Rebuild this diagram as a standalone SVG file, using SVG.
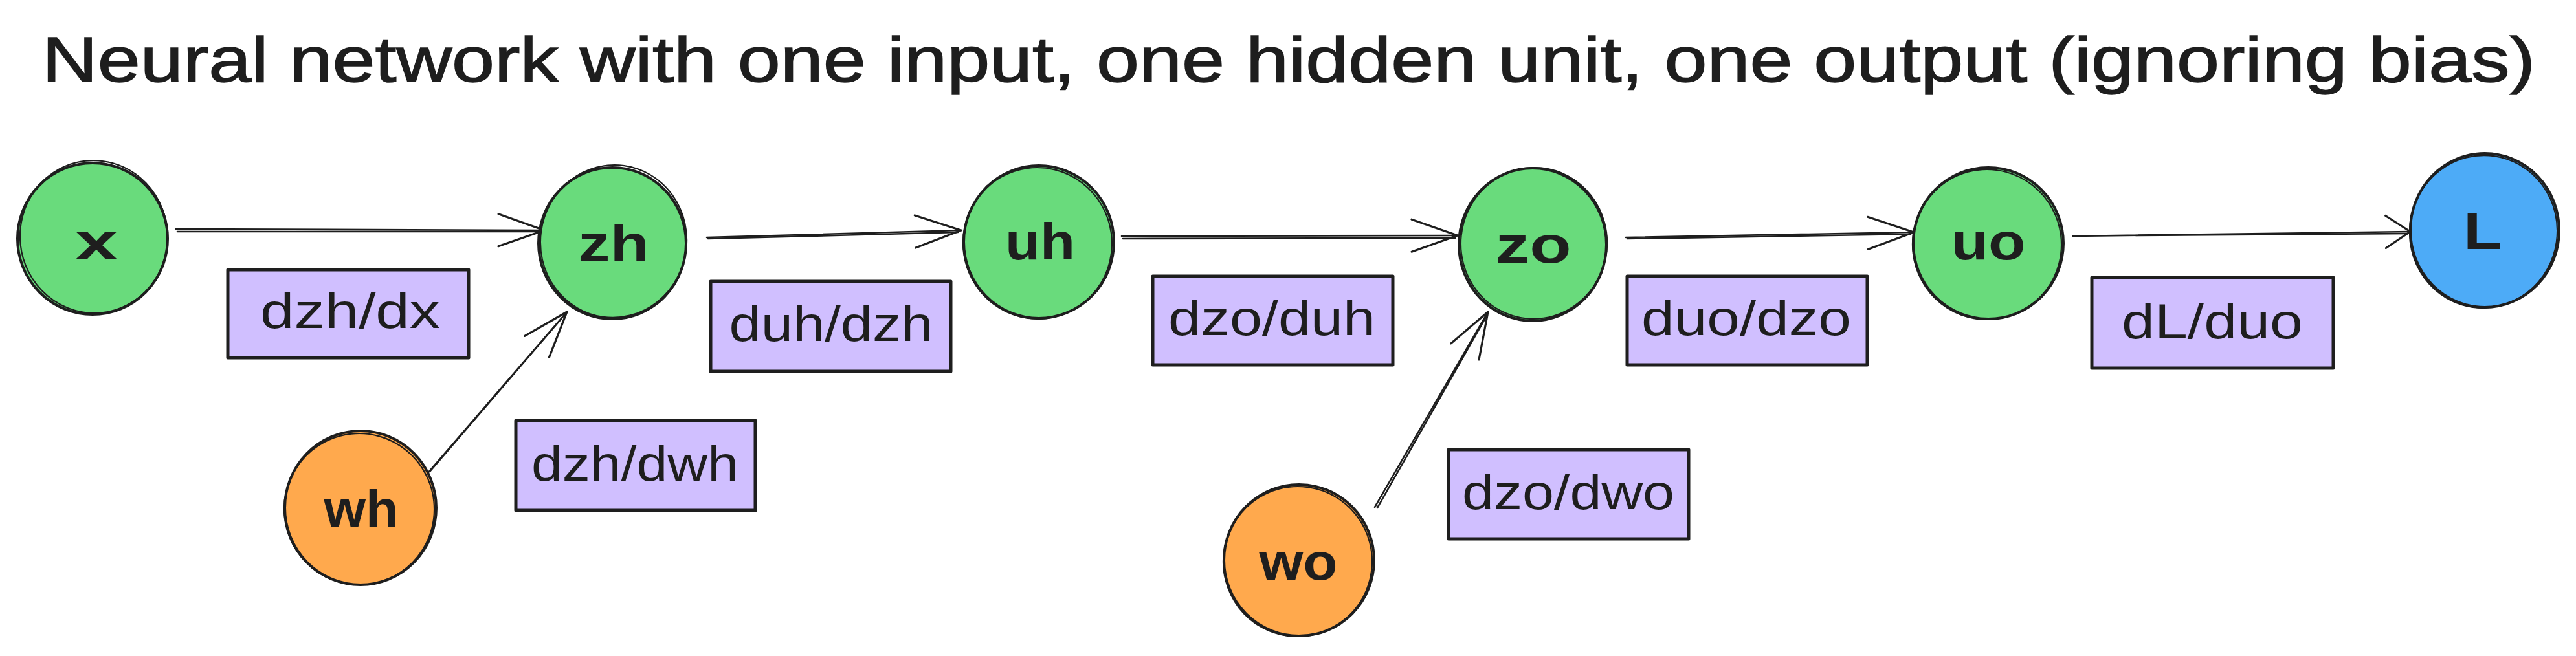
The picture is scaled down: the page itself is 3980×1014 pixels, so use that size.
<svg xmlns="http://www.w3.org/2000/svg" width="3980" height="1014" viewBox="0 0 3980 1014">
<defs>
<style>
.bg{fill:#ffffff}
.ink{fill:none;stroke:#1e1e1e;stroke-linecap:round;stroke-linejoin:round}
.c1{stroke-width:4}
.c2{stroke-width:2.2}
.green{fill:#69db7c;stroke:none}
.orange{fill:#ffa94d;stroke:none}
.blue{fill:#4dabf7;stroke:none}
.violet{fill:#d0bfff;stroke:none}
.box{fill:none;stroke:#1e1e1e;stroke-width:5;stroke-linejoin:round}
.edge{fill:none;stroke:#1e1e1e;stroke-width:2.6;stroke-linecap:round}
.title{font-family:"Liberation Sans",Arial,sans-serif;font-size:98px;fill:#1e1e1e;stroke:#1e1e1e;stroke-width:1.5}
.nlabel{font-family:"Liberation Sans",Arial,sans-serif;font-size:80px;font-weight:bold;fill:#1e1e1e;text-anchor:middle}
.elabel{font-family:"Liberation Sans",Arial,sans-serif;font-size:76px;fill:#1e1e1e;text-anchor:middle}
</style>
<marker id="head" markerUnits="userSpaceOnUse" viewBox="-80 -40 90 80" refX="0" refY="0" markerWidth="90" markerHeight="80" orient="auto" overflow="visible">
<path d="M -71 -25 L 0 0 L -71 25" fill="none" stroke="#1e1e1e" stroke-width="3.2" stroke-linecap="round" stroke-linejoin="round"/>
</marker>
<marker id="headS" markerUnits="userSpaceOnUse" viewBox="-50 -40 60 80" refX="0" refY="0" markerWidth="60" markerHeight="80" orient="auto" overflow="visible">
<path d="M -38 -25 L 0 0 L -38 25" fill="none" stroke="#1e1e1e" stroke-width="3.2" stroke-linecap="round" stroke-linejoin="round"/>
</marker>
</defs>
<rect class="bg" x="0" y="0" width="3980" height="1014"/>

<text id="title" class="title" x="65" y="126" textLength="3852" lengthAdjust="spacingAndGlyphs">Neural network with one input, one hidden unit, one output (ignoring bias)</text>

<g id="connectors">
<path class="edge" d="M 272 354 L 841 356" marker-end="url(#head)"/>
<path class="edge" d="M 274 358 L 838 358"/>
<path class="edge" d="M 1092 367 L 1485 356" marker-end="url(#head)"/>
<path class="edge" d="M 1094 369 L 1480 359"/>
<path class="edge" d="M 1733 365 L 2252 364" marker-end="url(#head)"/>
<path class="edge" d="M 1735 369 L 2248 368"/>
<path class="edge" d="M 2512 367 L 2957 359" marker-end="url(#head)"/>
<path class="edge" d="M 2514 369 L 2952 362"/>
<path class="edge" d="M 3203 365 L 3724 358" marker-end="url(#headS)"/>
<path class="edge" d="M 3300 364 L 3720 361"/>
<path class="edge" d="M 661 731 L 876 482" marker-end="url(#head)"/>
<path class="edge" d="M 664 729 L 873 486"/>
<path class="edge" d="M 2124 784 L 2299 482" marker-end="url(#head)"/>
<path class="edge" d="M 2128 785 L 2297 488"/>
</g>

<g id="node-x">
<ellipse class="green" cx="143" cy="369" rx="116" ry="117"/>
<ellipse class="ink c1" cx="143" cy="369" rx="116" ry="117"/>
<ellipse class="ink c2" cx="145" cy="366" rx="114" ry="118" transform="rotate(-6 145 366)"/>
<text class="nlabel" x="149" y="401" textLength="66" lengthAdjust="spacingAndGlyphs">x</text>
</g>
<g id="node-zh">
<ellipse class="green" cx="946" cy="376" rx="114" ry="117"/>
<ellipse class="ink c1" cx="946" cy="376" rx="114" ry="117"/>
<ellipse class="ink c2" cx="948" cy="373" rx="113" ry="118" transform="rotate(8 948 373)"/>
<text class="nlabel" x="948" y="404" textLength="110" lengthAdjust="spacingAndGlyphs">zh</text>
</g>
<g id="node-uh">
<ellipse class="green" cx="1605" cy="374" rx="116" ry="118"/>
<ellipse class="ink c1" cx="1605" cy="374" rx="116" ry="118"/>
<ellipse class="ink c2" cx="1603" cy="376" rx="115" ry="117" transform="rotate(-8 1603 376)"/>
<text class="nlabel" x="1607" y="401" textLength="108" lengthAdjust="spacingAndGlyphs">uh</text>
</g>
<g id="node-zo">
<ellipse class="green" cx="2368" cy="378" rx="114" ry="118"/>
<ellipse class="ink c1" cx="2368" cy="378" rx="114" ry="118"/>
<ellipse class="ink c2" cx="2370" cy="376" rx="113" ry="117" transform="rotate(6 2370 376)"/>
<text class="nlabel" x="2369" y="406" textLength="117" lengthAdjust="spacingAndGlyphs">zo</text>
</g>
<g id="node-uo">
<ellipse class="green" cx="3072" cy="376" rx="116" ry="117"/>
<ellipse class="ink c1" cx="3072" cy="376" rx="116" ry="117"/>
<ellipse class="ink c2" cx="3070" cy="378" rx="115" ry="116" transform="rotate(-7 3070 378)"/>
<text class="nlabel" x="3072" y="401" textLength="115" lengthAdjust="spacingAndGlyphs">uo</text>
</g>
<g id="node-L">
<ellipse class="blue" cx="3839" cy="356" rx="115" ry="119"/>
<ellipse class="ink c1" cx="3839" cy="356" rx="115" ry="119"/>
<ellipse class="ink c2" cx="3837" cy="358" rx="114" ry="118" transform="rotate(8 3837 358)"/>
<text class="nlabel" x="3836" y="385" textLength="60" lengthAdjust="spacingAndGlyphs">L</text>
</g>
<g id="node-wh">
<ellipse class="orange" cx="557" cy="785" rx="117" ry="119"/>
<ellipse class="ink c1" cx="557" cy="785" rx="117" ry="119"/>
<ellipse class="ink c2" cx="555" cy="787" rx="116" ry="117" transform="rotate(-6 555 787)"/>
<text class="nlabel" x="558" y="814" textLength="115" lengthAdjust="spacingAndGlyphs">wh</text>
</g>
<g id="node-wo">
<ellipse class="orange" cx="2007" cy="866" rx="116" ry="117"/>
<ellipse class="ink c1" cx="2007" cy="866" rx="116" ry="117"/>
<ellipse class="ink c2" cx="2005" cy="868" rx="115" ry="116" transform="rotate(7 2005 868)"/>
<text class="nlabel" x="2006" y="896" textLength="121" lengthAdjust="spacingAndGlyphs">wo</text>
</g>

<g id="label-dzh-dx">
<rect class="violet" x="352" y="417" width="372" height="136"/>
<rect class="box" x="352" y="417" width="372" height="136"/>
<text class="elabel" x="541" y="507" textLength="278" lengthAdjust="spacingAndGlyphs">dzh/dx</text>
</g>
<g id="label-duh-dzh">
<rect class="violet" x="1098" y="435" width="371" height="139"/>
<rect class="box" x="1098" y="435" width="371" height="139"/>
<text class="elabel" x="1284" y="527" textLength="315" lengthAdjust="spacingAndGlyphs">duh/dzh</text>
</g>
<g id="label-dzo-duh">
<rect class="violet" x="1781" y="427" width="371" height="137"/>
<rect class="box" x="1781" y="427" width="371" height="137"/>
<text class="elabel" x="1965" y="518" textLength="320" lengthAdjust="spacingAndGlyphs">dzo/duh</text>
</g>
<g id="label-dzh-dwh">
<rect class="violet" x="797" y="650" width="370" height="139"/>
<rect class="box" x="797" y="650" width="370" height="139"/>
<text class="elabel" x="981" y="743" textLength="320" lengthAdjust="spacingAndGlyphs">dzh/dwh</text>
</g>
<g id="label-dzo-dwo">
<rect class="violet" x="2238" y="695" width="371" height="138"/>
<rect class="box" x="2238" y="695" width="371" height="138"/>
<text class="elabel" x="2423" y="787" textLength="328" lengthAdjust="spacingAndGlyphs">dzo/dwo</text>
</g>
<g id="label-duo-dzo">
<rect class="violet" x="2514" y="427" width="371" height="137"/>
<rect class="box" x="2514" y="427" width="371" height="137"/>
<text class="elabel" x="2698" y="518" textLength="324" lengthAdjust="spacingAndGlyphs">duo/dzo</text>
</g>
<g id="label-dL-duo">
<rect class="violet" x="3232" y="429" width="373" height="140"/>
<rect class="box" x="3232" y="429" width="373" height="140"/>
<text class="elabel" x="3418" y="523" textLength="280" lengthAdjust="spacingAndGlyphs">dL/duo</text>
</g>
</svg>
